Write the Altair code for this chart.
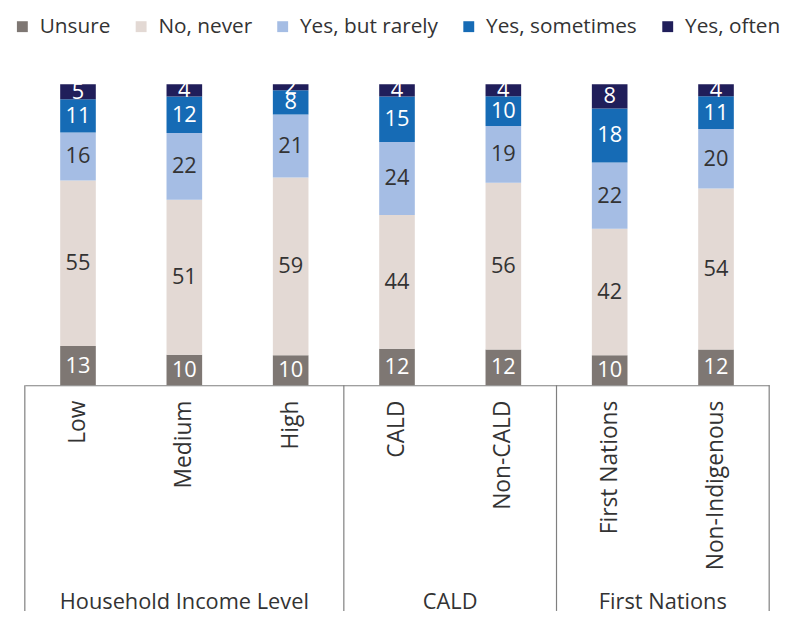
import altair as alt
import pandas as pd

FONT = "Open Sans"

categories = ["Low", "Medium", "High", "CALD", "Non-CALD", "First Nations", "Non-Indigenous"]
responses = ["Unsure", "No, never", "Yes, but rarely", "Yes, sometimes", "Yes, often"]
unsure = [13, 10, 10, 12, 12, 10, 12]
no_never = [55, 51, 59, 44, 56, 42, 54]
yes_rarely = [16, 22, 21, 24, 19, 22, 20]
yes_sometimes = [11, 12, 8, 15, 10, 18, 11]
yes_often = [5, 4, 2, 4, 4, 8, 4]
series = [unsure, no_never, yes_rarely, yes_sometimes, yes_often]

colors = ["#7E7773", "#E3D9D4", "#A5BDE4", "#166BB5", "#201E5A"]
label_colors = ["#FFFFFF", "#333333", "#333333", "#FFFFFF", "#FFFFFF"]

groups = ["Household Income Level", "CALD", "First Nations"]
group_sizes = [3, 2, 2]

rows = []
for ri, (resp, vals) in enumerate(zip(responses, series)):
    for cat, v in zip(categories, vals):
        rows.append({"cat": cat, "resp": resp, "value": v, "order": ri, "tc": label_colors[ri]})
df = pd.DataFrame(rows)

bounds = [0]
for s in group_sizes:
    bounds.append(bounds[-1] + s)
sep_df = pd.DataFrame({"pos": bounds})
grp_df = pd.DataFrame({
    "group": groups,
    "pos": [(bounds[i] + bounds[i + 1]) / 2 for i in range(len(groups))],
})

n = len(categories)
band_scale = alt.Scale(domain=categories, paddingInner=0.665, paddingOuter=0.3325)
y_scale = alt.Scale(domain=[0, 1], nice=False, zero=True)

base = alt.Chart(df).transform_stack(
    stack="value", groupby=["cat"], as_=["y0", "y1"], offset="normalize",
    sort=[alt.SortField("order", order="ascending")],
).transform_calculate(mid="(datum.y0 + datum.y1) / 2")

bars = base.mark_bar().encode(
    x=alt.X("cat:N", sort=categories, scale=band_scale,
            axis=alt.Axis(title=None, labelAngle=270, labelAlign="right",
                          labelBaseline="middle", labelPadding=15, ticks=False,
                          domainColor="#7F7F7F", domainWidth=1.2,
                          labelFont=FONT, labelFontSize=23, labelColor="#333333",
                          labelLimit=300)),
    y=alt.Y("y0:Q", scale=y_scale, axis=None),
    y2="y1:Q",
    color=alt.Color("resp:N", scale=alt.Scale(domain=responses, range=colors),
                    legend=alt.Legend(orient="none", legendX=-13, legendY=-69,
                                      direction="horizontal", columns=5, title=None,
                                      symbolType="square", symbolSize=121,
                                      symbolStrokeWidth=0,
                                      labelFont=FONT, labelFontSize=21,
                                      labelColor="#333333", columnPadding=20,
                                      labelOffset=7, padding=0, labelLimit=300)),
)

texts = base.mark_text(font=FONT, fontSize=22, baseline="middle").encode(
    x=alt.X("cat:N", sort=categories, scale=band_scale, axis=None),
    y=alt.Y("mid:Q", scale=y_scale, axis=None),
    text=alt.Text("value:Q"),
    color=alt.Color("tc:N", scale=None),
)

pos_scale = alt.Scale(domain=[0, n], nice=False, zero=False)

seps = alt.Chart(sep_df).mark_rule(color="#7F7F7F", strokeWidth=1.2).encode(
    x=alt.X("pos:Q", scale=pos_scale, axis=None),
    y=alt.value(304),
    y2=alt.value(532),
)

glabels = alt.Chart(grp_df).mark_text(font=FONT, fontSize=22, color="#333333",
                                       baseline="middle").encode(
    x=alt.X("pos:Q", scale=pos_scale, axis=None),
    y=alt.value(523),
    text="group:N",
)

chart = alt.layer(bars, texts, seps, glabels).resolve_scale(
    x="independent", color="independent"
).properties(
    width=752, height=304,
    autosize=alt.AutoSizeParams(type="none"),
    padding={"left": 17, "top": 74, "right": 18, "bottom": 228},
).configure_view(stroke=None)

chart.save("out.html", embed_options={"renderer": "svg", "actions": False})
